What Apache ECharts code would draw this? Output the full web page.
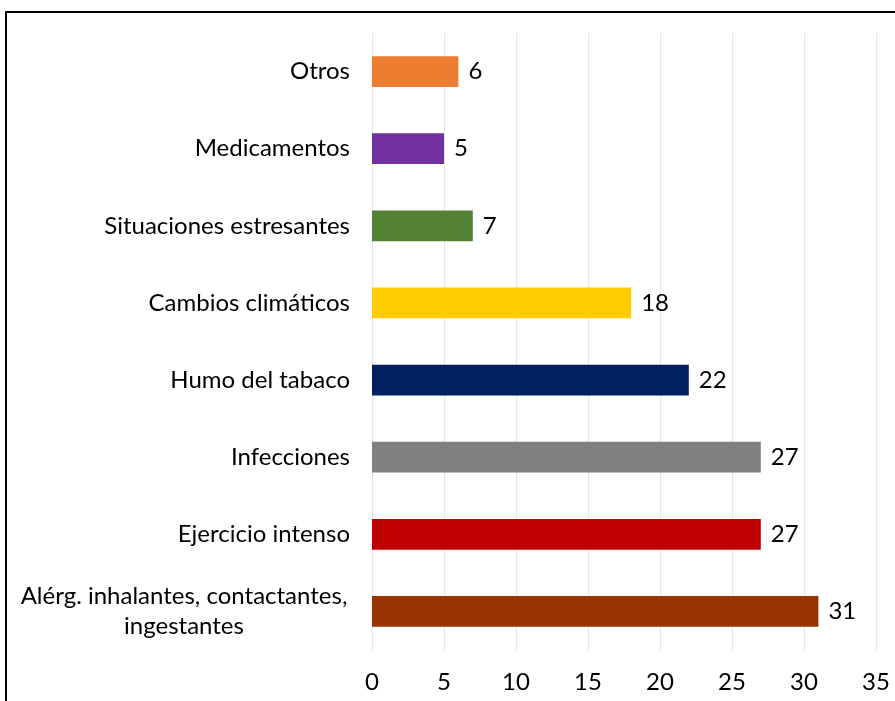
<!DOCTYPE html>
<html>
<head>
<meta charset="utf-8">
<script src="https://cdn.jsdelivr.net/npm/echarts@6/dist/echarts.min.js"></script>
<style>
  html, body { margin: 0; padding: 0; background: #fff; }
  #chart { width: 895px; height: 701px; }
</style>
</head>
<body>
<div id="chart"></div>
<script>
// categories bottom -> top (ECharts category y axis starts at the bottom)
const categories = [
    'Alérg. inhalantes, contactantes,\ningestantes',
    'Ejercicio intenso',
    'Infecciones',
    'Humo del tabaco',
    'Cambios climáticos',
    'Situaciones estresantes',
    'Medicamentos',
    'Otros'
];
const values = [31, 27, 27, 22, 18, 7, 5, 6];
const barColors = ['#993300', '#C00000', '#808080', '#002060', '#FFCC00', '#548235', '#7030A0', '#ED7D31'];
const xTicks = { min: 0, max: 35, interval: 5 };

const FONT = 'Lato';
const FS = 24;

const chart = echarts.init(document.getElementById('chart'));

chart.setOption({
    animation: false,
    grid: { left: 372, right: 19, top: 33, bottom: 51 },
    xAxis: {
        type: 'value',
        min: xTicks.min,
        max: xTicks.max,
        interval: xTicks.interval,
        axisLine: { show: false },
        axisTick: { show: false },
        splitLine: { lineStyle: { color: '#e6e6e6', width: 1 } },
        axisLabel: { color: '#000', fontSize: FS, fontFamily: FONT, margin: 20 }
    },
    yAxis: {
        type: 'category',
        data: categories,
        axisLine: { show: false },
        axisTick: { show: false },
        axisLabel: {
            color: '#000',
            fontSize: FS,
            fontFamily: FONT,
            margin: 22,
            lineHeight: 30,
            // la etiqueta larga va centrada en dos líneas
            formatter: function (v) {
                if (v.indexOf('\n') >= 0) {
                    return v.split('\n').map(s => '{c|' + s + '}').join('\n');
                }
                return v;
            },
            rich: {
                c: { width: 332, align: 'center', fontSize: FS, fontFamily: FONT, color: '#000', lineHeight: 30 }
            }
        }
    },
    series: [{
        type: 'bar',
        barWidth: '40%',
        data: values.map((v, i) => ({ value: v, itemStyle: { color: barColors[i] } })),
        label: {
            show: true,
            position: 'right',
            distance: 10,
            color: '#000',
            fontSize: FS,
            fontFamily: FONT
        }
    }],
    graphic: [{
        type: 'rect',
        shape: { x: 6, y: 12, width: 1000, height: 1000 },
        style: { fill: 'none', stroke: '#000', lineWidth: 2 },
        silent: true,
        z: -1
    }]
});
</script>
</body>
</html>
